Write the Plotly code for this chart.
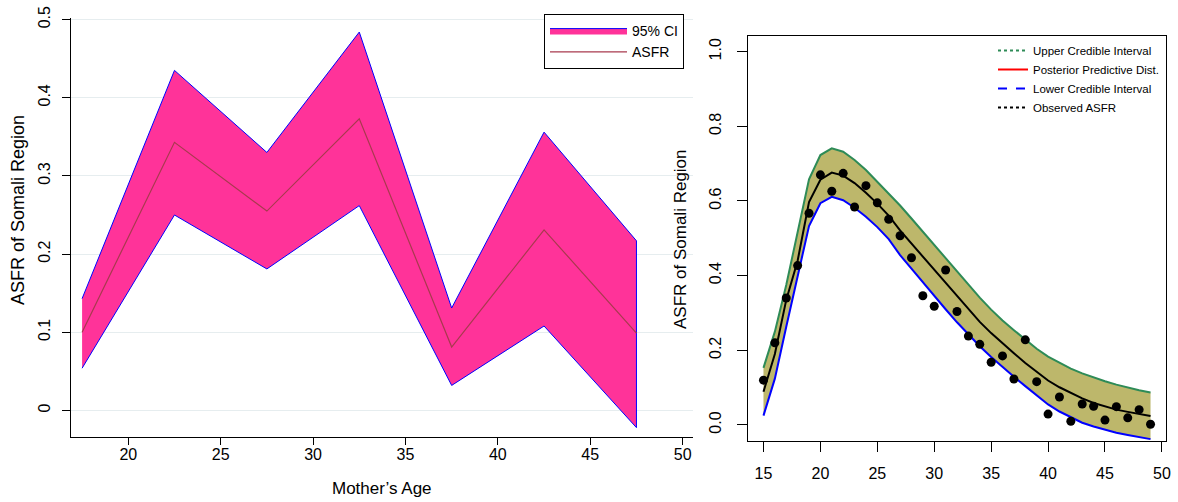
import plotly.graph_objects as go

# ---------------- Left panel data ----------------
age_groups = [17.5, 22.5, 27.5, 32.5, 37.5, 42.5, 47.5]
asfr_upper = [0.143, 0.435, 0.330, 0.484, 0.131, 0.356, 0.217]
asfr_mean = [0.100, 0.343, 0.255, 0.373, 0.081, 0.231, 0.099]
asfr_lower = [0.054, 0.250, 0.181, 0.262, 0.032, 0.108, -0.022]

# ---------------- Right panel data ----------------
ages = list(range(15, 50))
ci_upper = [0.153, 0.250, 0.375, 0.515, 0.658, 0.723, 0.741, 0.732, 0.710, 0.683,
            0.652, 0.620, 0.588, 0.553, 0.518, 0.482, 0.446, 0.410, 0.375, 0.341,
            0.309, 0.280, 0.254, 0.228, 0.204, 0.183, 0.166, 0.151, 0.138, 0.127,
            0.117, 0.108, 0.100, 0.093, 0.087]
post_mean = [0.089, 0.190, 0.335, 0.440, 0.597, 0.657, 0.676, 0.668, 0.648, 0.622,
             0.593, 0.561, 0.521, 0.486, 0.450, 0.414, 0.378, 0.343, 0.309, 0.276,
             0.246, 0.218, 0.192, 0.166, 0.142, 0.119, 0.101, 0.085, 0.071, 0.059,
             0.049, 0.041, 0.035, 0.029, 0.024]
ci_lower = [0.025, 0.124, 0.263, 0.400, 0.533, 0.594, 0.611, 0.602, 0.582, 0.558,
            0.530, 0.498, 0.455, 0.419, 0.382, 0.346, 0.310, 0.275, 0.242, 0.211,
            0.182, 0.155, 0.129, 0.104, 0.080, 0.055, 0.036, 0.020, 0.006, -0.004,
            -0.013, -0.021, -0.027, -0.033, -0.038]
observed = [0.120, 0.220, 0.340, 0.427, 0.567, 0.670, 0.626, 0.674, 0.584, 0.641,
            0.595, 0.551, 0.507, 0.448, 0.346, 0.318, 0.415, 0.304, 0.238, 0.216,
            0.168, 0.185, 0.123, 0.228, 0.116, 0.029, 0.075, 0.010, 0.056, 0.050,
            0.013, 0.049, 0.019, 0.041, 0.002]

left_xticks = [20, 25, 30, 35, 40, 45, 50]
left_yticks = [0, 0.1, 0.2, 0.3, 0.4, 0.5]
right_xticks = [15, 20, 25, 30, 35, 40, 45, 50]
right_yticks = [0.0, 0.2, 0.4, 0.6, 0.8, 1.0]

FONT = "Liberation Sans, Arial, Helvetica, sans-serif"
W, H = 1178, 502

fig = go.Figure()

# Left: CI band polygon
fig.add_trace(go.Scatter(
    x=age_groups + age_groups[::-1],
    y=asfr_upper + asfr_lower[::-1],
    fill="toself", fillcolor="#FF3399",
    line=dict(color="#0000FF", width=1),
    mode="lines", name="95% CI",
    xaxis="x", yaxis="y", legend="legend", hoverinfo="skip"))
fig.add_trace(go.Scatter(
    x=age_groups, y=asfr_mean, mode="lines", name="ASFR",
    line=dict(color="#A83A4E", width=1.2),
    xaxis="x", yaxis="y", legend="legend"))

# Right: band fill
fig.add_trace(go.Scatter(
    x=ages + ages[::-1], y=ci_upper + ci_lower[::-1],
    fill="toself", fillcolor="#BDB76B", line=dict(width=0),
    mode="lines", showlegend=False, hoverinfo="skip",
    xaxis="x2", yaxis="y2"))
fig.add_trace(go.Scatter(x=ages, y=ci_upper, mode="lines",
                         line=dict(color="#2E8B57", width=2),
                         showlegend=False, xaxis="x2", yaxis="y2"))
fig.add_trace(go.Scatter(x=ages, y=ci_lower, mode="lines",
                         line=dict(color="#0000FF", width=2),
                         showlegend=False, xaxis="x2", yaxis="y2"))
fig.add_trace(go.Scatter(x=ages, y=post_mean, mode="lines",
                         line=dict(color="#000000", width=2),
                         showlegend=False, xaxis="x2", yaxis="y2"))
fig.add_trace(go.Scatter(x=ages, y=observed, mode="markers",
                         marker=dict(color="#000000", size=9),
                         showlegend=False, xaxis="x2", yaxis="y2"))

# Right legend entries (legend only)
leg_entries = [
    ("Upper Credible Interval", "#2E8B57", "dot"),
    ("Posterior Predictive Dist.", "#FF0000", "solid"),
    ("Lower Credible Interval", "#0000FF", "dash"),
    ("Observed ASFR", "#000000", "dot"),
]
for name, col, dash in leg_entries:
    fig.add_trace(go.Scatter(x=[None], y=[None], mode="lines", name=name,
                             line=dict(color=col, width=2, dash=dash),
                             xaxis="x2", yaxis="y2", legend="legend2"))

axis_common = dict(showgrid=False, zeroline=False, ticks="outside",
                   tickcolor="black", linecolor="black", showline=True,
                   tickfont=dict(family=FONT, size=16, color="black"),
                   automargin=False)

fig.update_layout(
    width=W, height=H,
    margin=dict(l=0, r=0, t=0, b=0),
    paper_bgcolor="white", plot_bgcolor="white",
    font=dict(family=FONT, color="black"),
    xaxis=dict(axis_common, domain=[71 / W, 693 / W], range=[16.9, 50.56],
               tickvals=left_xticks, ticklen=7, anchor="y",
               ticklabelstandoff=-4),
    yaxis=dict(axis_common, domain=[(H - 437) / H, (H - 18) / H],
               range=[-0.034, 0.502], tickvals=left_yticks, ticklen=8,
               tickangle=-90, anchor="x", showgrid=True,
               gridcolor="#E6EDEF", gridwidth=1, ticklabelstandoff=6),
    xaxis2=dict(axis_common, domain=[748 / W, 1166 / W], range=[13.64, 50.36],
                tickvals=right_xticks, ticklen=10, anchor="y2", mirror=True,
                ticklabelstandoff=8),
    yaxis2=dict(axis_common, domain=[(H - 441) / H, (H - 36) / H],
                range=[-0.043, 1.042], tickvals=right_yticks, tickformat=".1f",
                ticklen=10, tickangle=-90, anchor="x2", mirror=True,
                ticklabelstandoff=10),
    legend=dict(x=544 / W, y=1 - 14 / H, xanchor="left", yanchor="top",
                bordercolor="black", borderwidth=1, bgcolor="white",
                font=dict(family=FONT, size=14, color="black"),
                itemwidth=77, traceorder="normal"),
    legend2=dict(x=993 / W, y=1 - 36 / H, xanchor="left", yanchor="top",
                 borderwidth=0, bgcolor="rgba(0,0,0,0)",
                 font=dict(family=FONT, size=11.5, color="black"),
                 traceorder="normal"),
    annotations=[
        dict(text="Mother’s Age", x=382 / W, y=1 - 488 / H, xref="paper",
             yref="paper", showarrow=False, xanchor="center", yanchor="middle",
             font=dict(family=FONT, size=17, color="black")),
        dict(text="ASFR of Somali Region", x=18 / W, y=1 - 210 / H, xref="paper",
             yref="paper", showarrow=False, textangle=-90, xanchor="center",
             yanchor="middle", font=dict(family=FONT, size=18, color="black")),
        dict(text="ASFR of Somali Region", x=680 / W, y=1 - 239 / H, xref="paper",
             yref="paper", showarrow=False, textangle=-90, xanchor="center",
             yanchor="middle", font=dict(family=FONT, size=17, color="black")),
    ],
)

fig.write_html("out.html")
